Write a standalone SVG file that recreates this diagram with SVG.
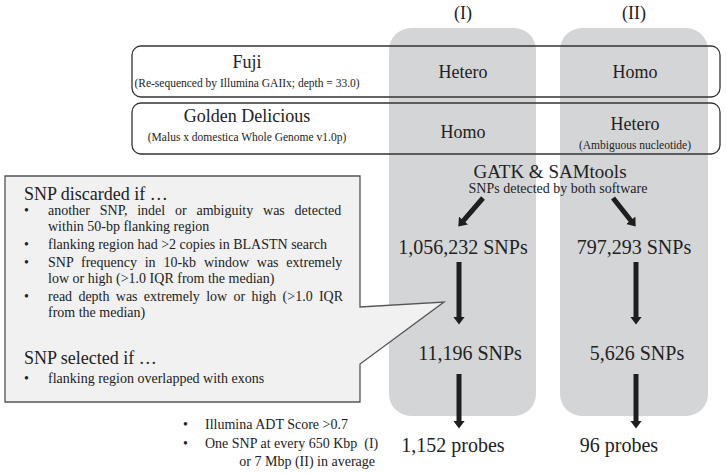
<svg xmlns="http://www.w3.org/2000/svg" width="726" height="474" viewBox="0 0 726 474">
<defs>
<marker id="ah" viewBox="0 0 8 12" refX="0.5" refY="6" markerWidth="8" markerHeight="12" markerUnits="userSpaceOnUse" orient="auto">
<path d="M0,0 L8,6 L0,12 Z" fill="#1e1e1e"/>
</marker>
<style>
text{font-family:"Liberation Serif","Times New Roman",serif;fill:#222}
.col{fill:#d4d5d7}
.row{fill:none;stroke:#333;stroke-width:1.3}
.big{font-size:20px;text-anchor:middle}
.mid{font-size:18px;text-anchor:middle}
.sm{font-size:11.5px;text-anchor:middle}
.body{font-size:14px}
.head{font-size:18px}
.arr{stroke:#1e1e1e;stroke-width:5;fill:none;marker-end:url(#ah)}
</style>
</defs>
<rect width="726" height="474" fill="#fff"/>
<g id="col-I"><rect class="col" x="389" y="28" width="147" height="388" rx="22"/><text class="mid" x="463" y="19">(I)</text></g>
<g id="col-II"><rect class="col" x="560" y="28" width="148" height="388" rx="22"/><text class="mid" x="634" y="19">(II)</text></g>
<g id="fuji">
<rect class="row" x="132" y="46" width="588" height="51" rx="9"/>
<text class="mid" x="247" y="68">Fuji</text>
<text class="sm" x="247" y="87">(Re-sequenced by Illumina GAIIx; depth = 33.0)</text>
<text class="mid" x="463" y="78">Hetero</text>
<text class="mid" x="635" y="78">Homo</text>
</g>
<g id="golden">
<rect class="row" x="132" y="103" width="588" height="51" rx="9"/>
<text class="mid" x="247" y="122">Golden Delicious</text>
<text class="sm" x="247" y="141">(Malus x domestica Whole Genome v1.0p)</text>
<text class="mid" x="463" y="138">Homo</text>
<text class="mid" x="635" y="130">Hetero</text>
<text class="sm" x="635" y="149">(Ambiguous nucleotide)</text>
</g>
<g id="gatk">
<text class="mid" x="550" y="178" style="font-size:19px">GATK &amp; SAMtools</text>
<text x="558" y="193" style="font-size:14px;text-anchor:middle">SNPs detected by both software</text>
</g>
<g id="snp-I-1"><text class="big" x="463" y="254">1,056,232 SNPs</text></g>
<g id="snp-II-1"><text class="big" x="634" y="254">797,293 SNPs</text></g>
<g id="snp-I-2"><text class="big" x="470" y="360">11,196 SNPs</text></g>
<g id="snp-II-2"><text class="big" x="637" y="360">5,626 SNPs</text></g>
<g id="probes-I"><text class="big" x="453" y="452">1,152 probes</text></g>
<g id="probes-II"><text class="big" x="619" y="452">96 probes</text></g>
<g id="callout">
<path d="M5,176 H360 V307 L444,302 L360,364 V402 H5 Z" fill="#f1f1f1" stroke="#555" stroke-width="1.3"/>
<text class="head" x="24" y="200">SNP discarded if …</text>
<g class="body">
<text x="24" y="215">•</text><text x="48" y="215" word-spacing="6.3">another SNP, indel or ambiguity was detected</text>
<text x="48" y="231">within 50-bp flanking region</text>
<text x="24" y="249">•</text><text x="48" y="249">flanking region had &gt;2 copies in BLASTN search</text>
<text x="24" y="267">•</text><text x="48" y="267" word-spacing="4.3">SNP frequency in 10-kb window was extremely</text>
<text x="48" y="283">low or high (&gt;1.0 IQR from the median)</text>
<text x="24" y="301">•</text><text x="48" y="301" word-spacing="2.8">read depth was extremely low or high (&gt;1.0 IQR</text>
<text x="48" y="317">from the median)</text>
<text class="head" x="24" y="364">SNP selected if …</text>
<text x="24" y="383">•</text><text x="48" y="383">flanking region overlapped with exons</text>
</g>
</g>
<g id="criteria" class="body">
<text x="183" y="429">•</text><text x="205" y="429">Illumina ADT Score &gt;0.7</text>
<text x="183" y="448">•</text><text x="205" y="448" style="white-space:pre">One SNP at every 650 Kbp  (I)</text>
<text x="375" y="466" text-anchor="end">or 7 Mbp (II) in average</text>
</g>
<g id="connectors">
<line class="arr" x1="483" y1="198" x2="463.2" y2="220.9"/>
<line class="arr" x1="613" y1="198" x2="631" y2="220.7"/>
<line class="arr" x1="459" y1="262" x2="459" y2="317"/>
<line class="arr" x1="636" y1="262" x2="636" y2="317"/>
<line class="arr" x1="459" y1="374" x2="459" y2="421"/>
<line class="arr" x1="636" y1="374" x2="636" y2="421"/>
</g>
</svg>
